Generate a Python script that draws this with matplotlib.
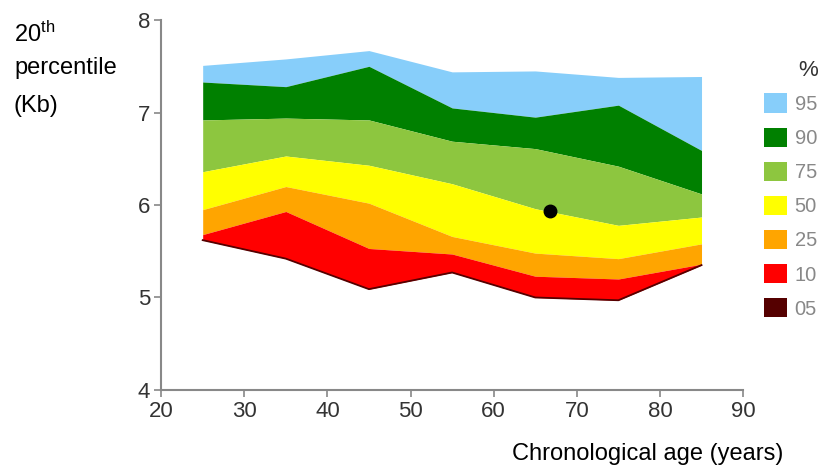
import matplotlib
matplotlib.use("Agg")
import matplotlib.pyplot as plt
from matplotlib.patches import Patch

plt.rcParams['font.family'] = ['Liberation Sans', 'DejaVu Sans']
plt.rcParams['mathtext.fontset'] = 'custom'
plt.rcParams['mathtext.rm'] = 'Liberation Sans'
plt.rcParams['mathtext.it'] = 'Liberation Sans'

# eta' (anni) e confini dei percentili (Kb)
ages = [25, 35, 45, 55, 65, 75, 85]
p95 = [7.51, 7.58, 7.67, 7.44, 7.45, 7.38, 7.39]
p90 = [7.33, 7.28, 7.50, 7.05, 6.95, 7.08, 6.59]
p75 = [6.92, 6.94, 6.92, 6.69, 6.61, 6.42, 6.12]
p50 = [6.36, 6.53, 6.43, 6.23, 5.96, 5.78, 5.87]
p25 = [5.95, 6.20, 6.02, 5.66, 5.48, 5.42, 5.58]
p10 = [5.68, 5.93, 5.53, 5.47, 5.23, 5.20, 5.36]
p05 = [5.62, 5.42, 5.09, 5.27, 5.00, 4.97, 5.35]

# punto del soggetto
subject_age = 66.8
subject_value = 5.93

labels = ["95", "90", "75", "50", "25", "10", "05"]
colors = ["#87CEFA", "#008000", "#8DC63F", "#FFFF00", "#FFA500", "#FF0000", "#550000"]

fig = plt.figure(figsize=(8.22, 4.67), dpi=100)
ax = fig.add_axes([0.196, 0.165, 0.708, 0.792])

bounds = [p95, p90, p75, p50, p25, p10, p05]
for i in range(6):
    ax.fill_between(ages, bounds[i + 1], bounds[i], color=colors[i], lw=0)
ax.plot(ages, p05, color=colors[6], lw=1.3)

ax.plot(subject_age, subject_value, 'o', color='black', markersize=9)

ax.set_xlim(20, 90)
ax.set_ylim(4, 8)
ax.set_xticks(range(20, 91, 10))
ax.set_yticks(range(4, 9))
for s in ['top', 'right']:
    ax.spines[s].set_visible(False)
for s in ['left', 'bottom']:
    ax.spines[s].set_color('#888888')
    ax.spines[s].set_linewidth(1.5)
ax.tick_params(colors='#888888', labelcolor='#333333', labelsize=16, length=5, width=1.2, pad=3)

handles = [Patch(facecolor=c, edgecolor='none') for c in colors]
leg = fig.legend(handles, labels, loc='upper left', bbox_to_anchor=(0.929, 0.80),
                 frameon=False, fontsize=14.5, handlelength=1.14, handleheight=1.09,
                 labelspacing=0.68, handletextpad=0.4, borderpad=0, borderaxespad=0)
for t in leg.get_texts():
    t.set_color('#888888')
fig.text(0.983, 0.85, "%", fontsize=16, color='#333333', ha='center', va='center')

fig.text(0.017, 0.910, r"20$^{\mathrm{th}}$", fontsize=17, ha='left', va='baseline')
fig.text(0.017, 0.842, "percentile", fontsize=17, ha='left', va='baseline')
fig.text(0.017, 0.760, "(Kb)", fontsize=17, ha='left', va='baseline')

fig.text(0.623, 0.016, "Chronological age (years)", fontsize=17, ha='left', va='baseline')

fig.savefig("out.png", dpi=100)
